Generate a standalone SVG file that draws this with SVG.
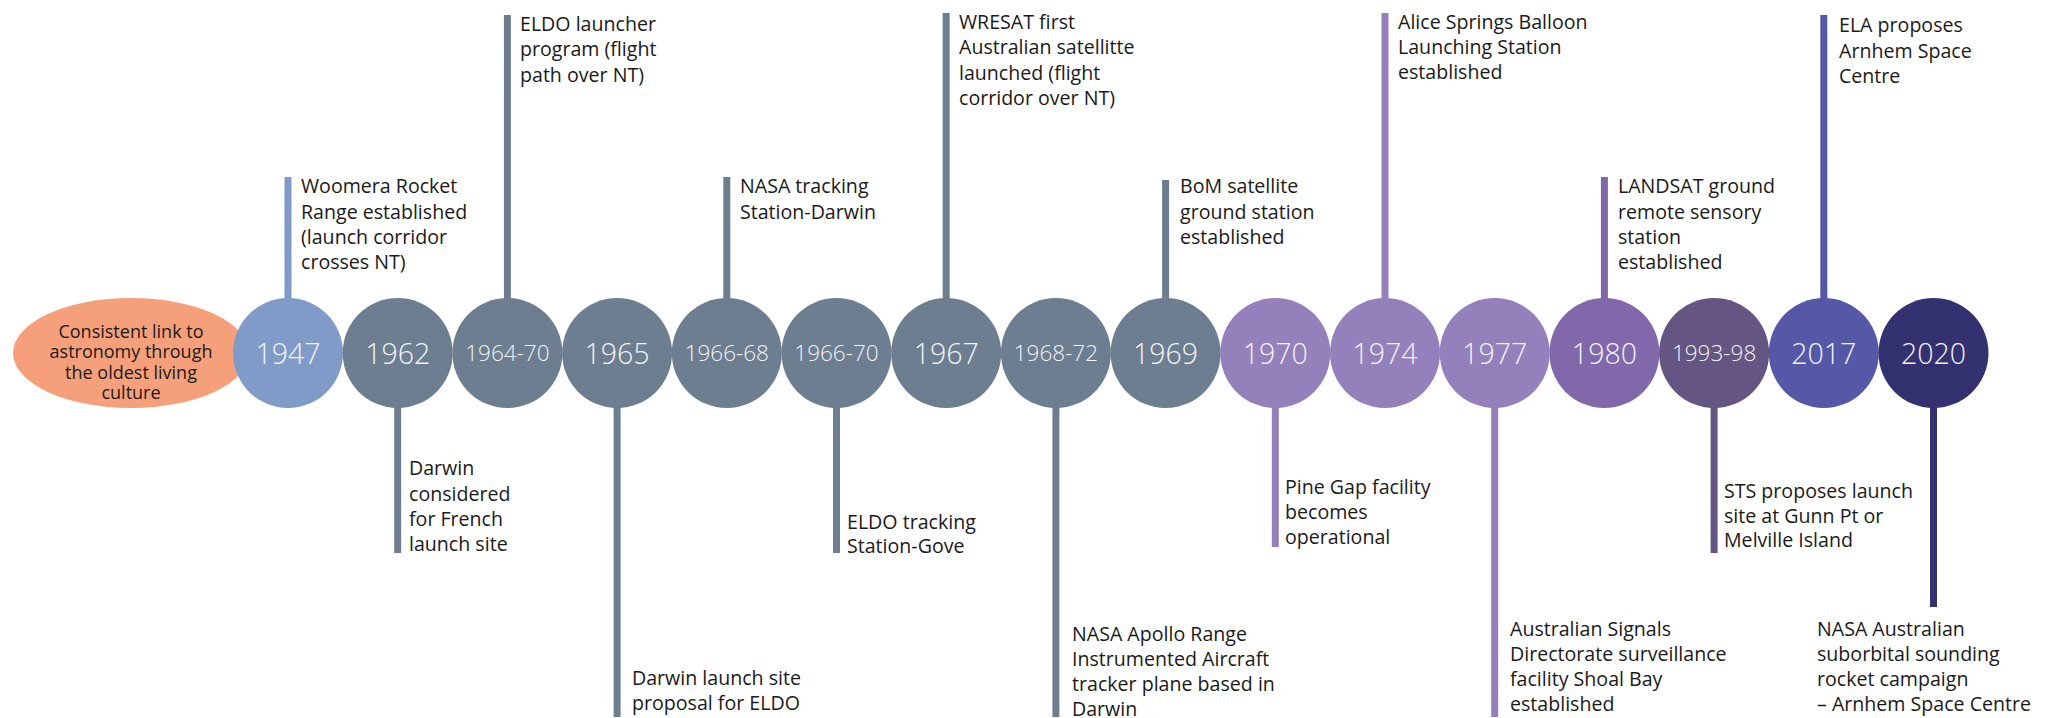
<svg xmlns="http://www.w3.org/2000/svg" width="2065" height="718" viewBox="0 0 2065 718">
<style>
.lbl{font-family:"Open Sans","Liberation Sans",sans-serif;font-size:19.6px;fill:#1a1a1a}
.yr{font-family:"Open Sans","Liberation Sans",sans-serif;font-size:28.5px;font-weight:300;fill:#f2f3f6;text-anchor:middle}
.yrs{font-family:"Open Sans","Liberation Sans",sans-serif;font-size:22.5px;font-weight:300;fill:#f2f3f6;text-anchor:middle}
.org{font-family:"Open Sans","Liberation Sans",sans-serif;font-size:18px;fill:#1a1a1a;text-anchor:middle}
.stem{stroke-width:7}
</style>
<rect width="2065" height="718" fill="#ffffff"/>
<g id="connectors">
<line class="stem" x1="288" y1="177" x2="288" y2="300" stroke="#809bc8"/>
<line class="stem" x1="397.7" y1="406" x2="397.7" y2="553" stroke="#6e7e91"/>
<line class="stem" x1="507.4" y1="15" x2="507.4" y2="300" stroke="#6e7e91"/>
<line class="stem" x1="617.1" y1="406" x2="617.1" y2="717" stroke="#6e7e91"/>
<line class="stem" x1="726.8" y1="177" x2="726.8" y2="300" stroke="#6e7e91"/>
<line class="stem" x1="836.5" y1="406" x2="836.5" y2="553" stroke="#6e7e91"/>
<line class="stem" x1="946.2" y1="13" x2="946.2" y2="300" stroke="#6e7e91"/>
<line class="stem" x1="1055.9" y1="406" x2="1055.9" y2="717" stroke="#6e7e91"/>
<line class="stem" x1="1165.6" y1="180" x2="1165.6" y2="300" stroke="#6e7e91"/>
<line class="stem" x1="1275.3" y1="406" x2="1275.3" y2="547" stroke="#9480bb"/>
<line class="stem" x1="1385" y1="13" x2="1385" y2="300" stroke="#9480bb"/>
<line class="stem" x1="1494.7" y1="406" x2="1494.7" y2="717" stroke="#9480bb"/>
<line class="stem" x1="1604.4" y1="177" x2="1604.4" y2="300" stroke="#8068ab"/>
<line class="stem" x1="1714.1" y1="406" x2="1714.1" y2="553" stroke="#645582"/>
<line class="stem" x1="1823.8" y1="15" x2="1823.8" y2="300" stroke="#5558a7"/>
<line class="stem" x1="1933.5" y1="406" x2="1933.5" y2="607" stroke="#33316f"/>
</g>
<g id="origin">
<ellipse cx="131" cy="353" rx="118" ry="55" fill="#f6a07b"/>
<text class="org" x="131" y="338"><tspan x="131" y="338">Consistent link to</tspan><tspan x="131" y="358">astronomy through</tspan><tspan x="131" y="379">the oldest living</tspan><tspan x="131" y="399">culture</tspan></text>
</g>
<g id="n1947">
<circle cx="288" cy="353" r="55" fill="#809bc8"/>
<text class="yr" x="288" y="364">1947</text>
<text class="lbl" x="301" y="193">Woomera Rocket</text>
<text class="lbl" x="301" y="219">Range established</text>
<text class="lbl" x="301" y="244">(launch corridor</text>
<text class="lbl" x="301" y="269">crosses NT)</text>
</g>
<g id="n1962">
<circle cx="397.7" cy="353" r="55" fill="#6e7e91"/>
<text class="yr" x="397.7" y="364">1962</text>
<text class="lbl" x="409" y="475">Darwin</text>
<text class="lbl" x="409" y="501">considered</text>
<text class="lbl" x="409" y="526">for French</text>
<text class="lbl" x="409" y="551">launch site</text>
</g>
<g id="n1964-70">
<circle cx="507.4" cy="353" r="55" fill="#6e7e91"/>
<text class="yrs" x="507.4" y="361">1964-70</text>
<text class="lbl" x="520" y="31">ELDO launcher</text>
<text class="lbl" x="520" y="56">program (flight</text>
<text class="lbl" x="520" y="82">path over NT)</text>
</g>
<g id="n1965">
<circle cx="617.1" cy="353" r="55" fill="#6e7e91"/>
<text class="yr" x="617.1" y="364">1965</text>
<text class="lbl" x="632" y="685">Darwin launch site</text>
<text class="lbl" x="632" y="710">proposal for ELDO</text>
</g>
<g id="n1966-68">
<circle cx="726.8" cy="353" r="55" fill="#6e7e91"/>
<text class="yrs" x="726.8" y="361">1966-68</text>
<text class="lbl" x="740" y="193">NASA tracking</text>
<text class="lbl" x="740" y="219">Station-Darwin</text>
</g>
<g id="n1966-70">
<circle cx="836.5" cy="353" r="55" fill="#6e7e91"/>
<text class="yrs" x="836.5" y="361">1966-70</text>
<text class="lbl" x="847" y="529">ELDO tracking</text>
<text class="lbl" x="847" y="553">Station-Gove</text>
</g>
<g id="n1967">
<circle cx="946.2" cy="353" r="55" fill="#6e7e91"/>
<text class="yr" x="946.2" y="364">1967</text>
<text class="lbl" x="959" y="29">WRESAT first</text>
<text class="lbl" x="959" y="54">Australian satellitte</text>
<text class="lbl" x="959" y="80">launched (flight</text>
<text class="lbl" x="959" y="105">corridor over NT)</text>
</g>
<g id="n1968-72">
<circle cx="1055.9" cy="353" r="55" fill="#6e7e91"/>
<text class="yrs" x="1055.9" y="361">1968-72</text>
<text class="lbl" x="1072" y="641">NASA Apollo Range</text>
<text class="lbl" x="1072" y="666">Instrumented Aircraft</text>
<text class="lbl" x="1072" y="691">tracker plane based in</text>
<text class="lbl" x="1072" y="716">Darwin</text>
</g>
<g id="n1969">
<circle cx="1165.6" cy="353" r="55" fill="#6e7e91"/>
<text class="yr" x="1165.6" y="364">1969</text>
<text class="lbl" x="1180" y="193">BoM satellite</text>
<text class="lbl" x="1180" y="219">ground station</text>
<text class="lbl" x="1180" y="244">established</text>
</g>
<g id="n1970">
<circle cx="1275.3" cy="353" r="55" fill="#9480bb"/>
<text class="yr" x="1275.3" y="364">1970</text>
<text class="lbl" x="1285" y="494">Pine Gap facility</text>
<text class="lbl" x="1285" y="519">becomes</text>
<text class="lbl" x="1285" y="544">operational</text>
</g>
<g id="n1974">
<circle cx="1385" cy="353" r="55" fill="#9480bb"/>
<text class="yr" x="1385" y="364">1974</text>
<text class="lbl" x="1398" y="29">Alice Springs Balloon</text>
<text class="lbl" x="1398" y="54">Launching Station</text>
<text class="lbl" x="1398" y="79">established</text>
</g>
<g id="n1977">
<circle cx="1494.7" cy="353" r="55" fill="#9480bb"/>
<text class="yr" x="1494.7" y="364">1977</text>
<text class="lbl" x="1510" y="636">Australian Signals</text>
<text class="lbl" x="1510" y="661">Directorate surveillance</text>
<text class="lbl" x="1510" y="686">facility Shoal Bay</text>
<text class="lbl" x="1510" y="711">established</text>
</g>
<g id="n1980">
<circle cx="1604.4" cy="353" r="55" fill="#8068ab"/>
<text class="yr" x="1604.4" y="364">1980</text>
<text class="lbl" x="1618" y="193">LANDSAT ground</text>
<text class="lbl" x="1618" y="219">remote sensory</text>
<text class="lbl" x="1618" y="244">station</text>
<text class="lbl" x="1618" y="269">established</text>
</g>
<g id="n1993-98">
<circle cx="1714.1" cy="353" r="55" fill="#645582"/>
<text class="yrs" x="1714.1" y="361">1993-98</text>
<text class="lbl" x="1724" y="498">STS proposes launch</text>
<text class="lbl" x="1724" y="523">site at Gunn Pt or</text>
<text class="lbl" x="1724" y="547">Melville Island</text>
</g>
<g id="n2017">
<circle cx="1823.8" cy="353" r="55" fill="#5558a7"/>
<text class="yr" x="1823.8" y="364">2017</text>
<text class="lbl" x="1839" y="32">ELA proposes</text>
<text class="lbl" x="1839" y="58">Arnhem Space</text>
<text class="lbl" x="1839" y="83">Centre</text>
</g>
<g id="n2020">
<circle cx="1933.5" cy="353" r="55" fill="#33316f"/>
<text class="yr" x="1933.5" y="364">2020</text>
<text class="lbl" x="1817" y="636">NASA Australian</text>
<text class="lbl" x="1817" y="661">suborbital sounding</text>
<text class="lbl" x="1817" y="686">rocket campaign</text>
<text class="lbl" x="1817" y="711">– Arnhem Space Centre</text>
</g>
</svg>
